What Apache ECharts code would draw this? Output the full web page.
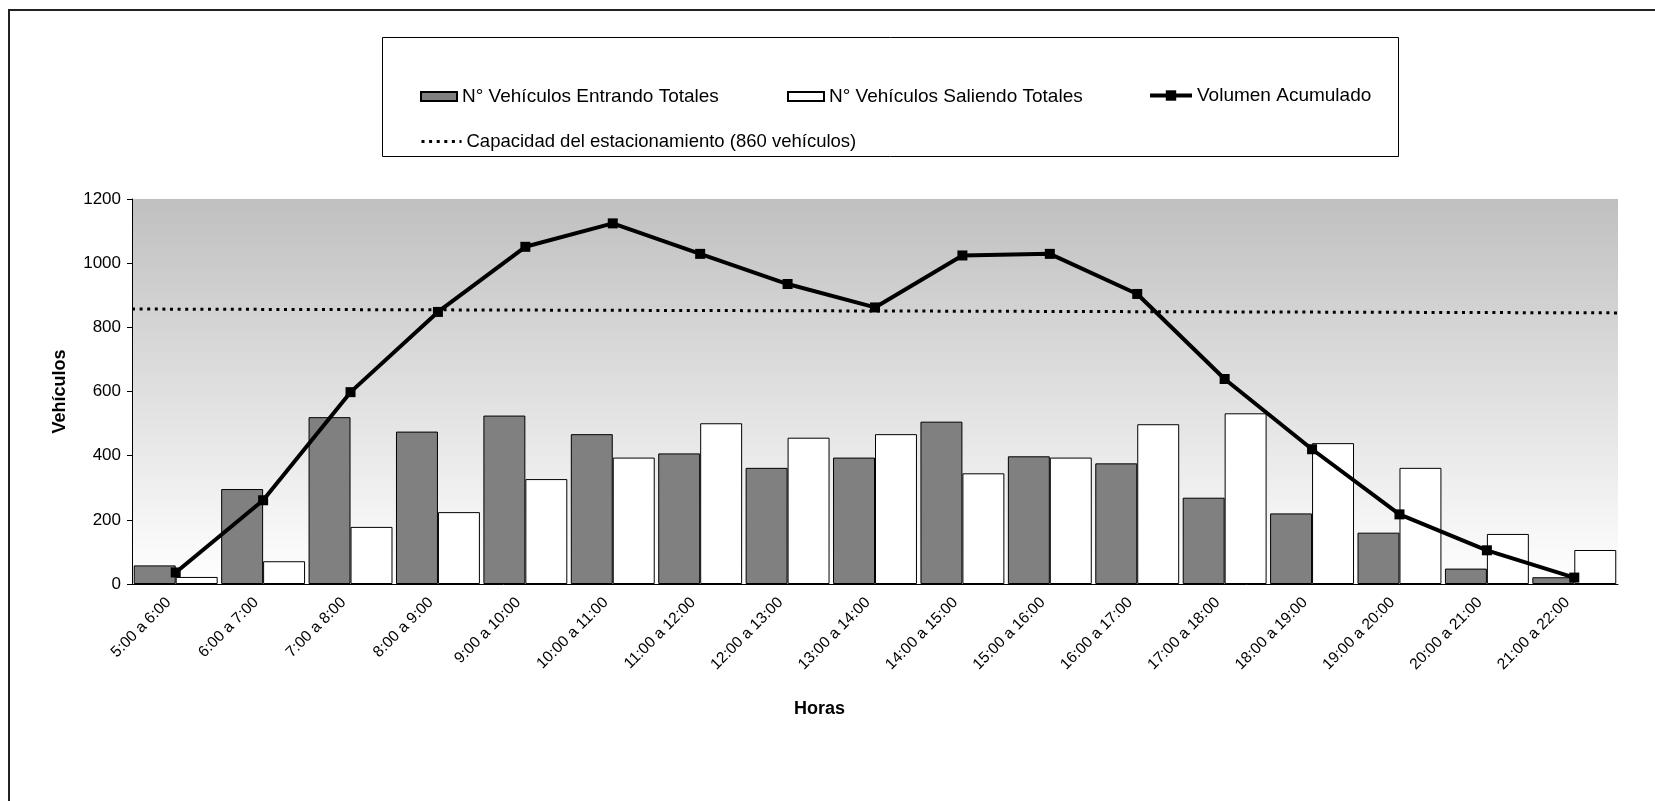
<!DOCTYPE html>
<html>
<head>
<meta charset="utf-8">
<title>Volumen de vehículos por hora</title>
<script src="https://cdn.jsdelivr.net/npm/echarts@6/dist/echarts.min.js"></script>
<style>
  html, body { margin: 0; padding: 0; background: #fff; }
  #chart { width: 1655px; height: 801px; }
</style>
</head>
<body>
<div id="chart"></div>
<script>
// categorias del eje x
const horas = [
  '5:00 a 6:00', '6:00 a 7:00', '7:00 a 8:00', '8:00 a 9:00', '9:00 a 10:00',
  '10:00 a 11:00', '11:00 a 12:00', '12:00 a 13:00', '13:00 a 14:00', '14:00 a 15:00',
  '15:00 a 16:00', '16:00 a 17:00', '17:00 a 18:00', '18:00 a 19:00', '19:00 a 20:00',
  '20:00 a 21:00', '21:00 a 22:00'
]
const entrando = [58, 296, 520, 475, 525, 467, 407, 362, 394, 506, 398, 376, 269, 220, 160, 48, 21]
const saliendo = [22, 71, 178, 224, 327, 394, 501, 456, 467, 345, 394, 498, 532, 439, 362, 156, 106]
const acumulado = [36, 261, 598, 848, 1051, 1124, 1029, 935, 862, 1024, 1029, 904, 639, 420, 217, 105, 20]
// linea de capacidad (dibujada de borde a borde, ligeramente inclinada)
const capacidadX = [0, 17]
const capacidadY = [857, 845]

const FONT = '"Liberation Sans", Arial, sans-serif'
const NOMBRES = [
  'N° Vehículos Entrando Totales',
  'N° Vehículos Saliendo Totales',
  'Volumen Acumulado',
  'Capacidad del estacionamiento (860 vehículos)'
]

// una leyenda por elemento, para ubicarlos como en el original
function leyenda(nombre, left, top, extra) {
  return Object.assign({
    left: left,
    top: top,
    padding: 0,
    itemWidth: 36,
    itemHeight: 9,
    selectedMode: false,
    textStyle: { fontFamily: FONT, fontSize: 19, color: '#000' },
    data: [nombre]
  }, extra)
}

let myChart = echarts.init(document.getElementById('chart'))

let option = {
  animation: false,
  backgroundColor: '#fff',
  textStyle: { fontFamily: FONT, color: '#000' },
  graphic: [
    {
      type: 'rect',
      shape: { x: 9, y: 10, width: 1700, height: 900 },
      style: { fill: null, stroke: '#222', lineWidth: 2 }
    },
    {
      type: 'rect',
      shape: { x: 382.5, y: 37.5, width: 1016, height: 119 },
      style: { fill: null, stroke: '#000', lineWidth: 1 }
    }
  ],
  title: {
    text: 'Horas',
    left: 794,
    top: 700,
    padding: 0,
    textStyle: { fontFamily: FONT, fontSize: 18, fontWeight: 'bold', color: '#000' }
  },
  legend: [
    leyenda(NOMBRES[0], 420, 87, { icon: 'rect' }),
    leyenda(NOMBRES[1], 787, 87, { icon: 'rect' }),
    leyenda(NOMBRES[2], 1148, 86, { itemWidth: 42, itemHeight: 13, lineStyle: { width: 4 } }),
    leyenda(NOMBRES[3], 420, 132, {
      itemWidth: 40,
      textStyle: { fontFamily: FONT, fontSize: 18.5, color: '#000' },
      lineStyle: { width: 3, type: [3, 4.6] },
      itemStyle: { opacity: 0 }
    })
  ],
  grid: {
    left: 132,
    right: 37,
    top: 199,
    bottom: 217,
    show: true,
    borderWidth: 0,
    backgroundColor: {
      type: 'linear', x: 0, y: 0, x2: 0, y2: 1,
      colorStops: [
        { offset: 0, color: '#c0c0c0' },
        { offset: 1, color: '#ffffff' }
      ]
    }
  },
  xAxis: [
    {
      type: 'category',
      data: horas,
      axisLine: { lineStyle: { color: '#000', width: 1 } },
      axisTick: { length: 5, lineStyle: { color: '#000' } },
      axisLabel: {
        interval: 0, rotate: 45, fontSize: 15.5, color: '#000', margin: 9,
        padding: [0, 10, 0, 0], fontFamily: FONT
      }
    },
    {
      type: 'value',
      min: 0,
      max: 17,
      show: false
    }
  ],
  yAxis: {
    type: 'value',
    min: 0,
    max: 1200,
    interval: 200,
    name: 'Vehículos',
    nameLocation: 'middle',
    nameGap: 63,
    nameTextStyle: { fontFamily: FONT, fontSize: 18, fontWeight: 'bold', color: '#000' },
    axisLine: { show: true, lineStyle: { color: '#000', width: 1 } },
    axisTick: { show: true, length: 5, lineStyle: { color: '#000' } },
    axisLabel: { fontSize: 17, color: '#000', margin: 11, fontFamily: FONT, formatter: v => String(v) },
    splitLine: { show: false }
  },
  series: [
    {
      name: NOMBRES[0],
      type: 'bar',
      barGap: '0%',
      barCategoryGap: '4%',
      itemStyle: { color: '#808080', borderColor: '#000', borderWidth: 1 },
      data: entrando
    },
    {
      name: NOMBRES[1],
      type: 'bar',
      barGap: '0%',
      barCategoryGap: '4%',
      itemStyle: { color: '#ffffff', borderColor: '#000', borderWidth: 1 },
      data: saliendo
    },
    {
      name: NOMBRES[2],
      type: 'line',
      symbol: 'rect',
      symbolSize: 10,
      lineStyle: { color: '#000', width: 4 },
      itemStyle: { color: '#000' },
      z: 5,
      data: acumulado
    },
    {
      name: NOMBRES[3],
      type: 'line',
      xAxisIndex: 1,
      symbol: 'none',
      lineStyle: { color: '#000', width: 3, type: [3, 4.6] },
      itemStyle: { color: '#000' },
      z: 4,
      data: capacidadX.map((x, i) => [x, capacidadY[i]])
    }
  ]
}

myChart.setOption(option)
</script>
</body>
</html>
